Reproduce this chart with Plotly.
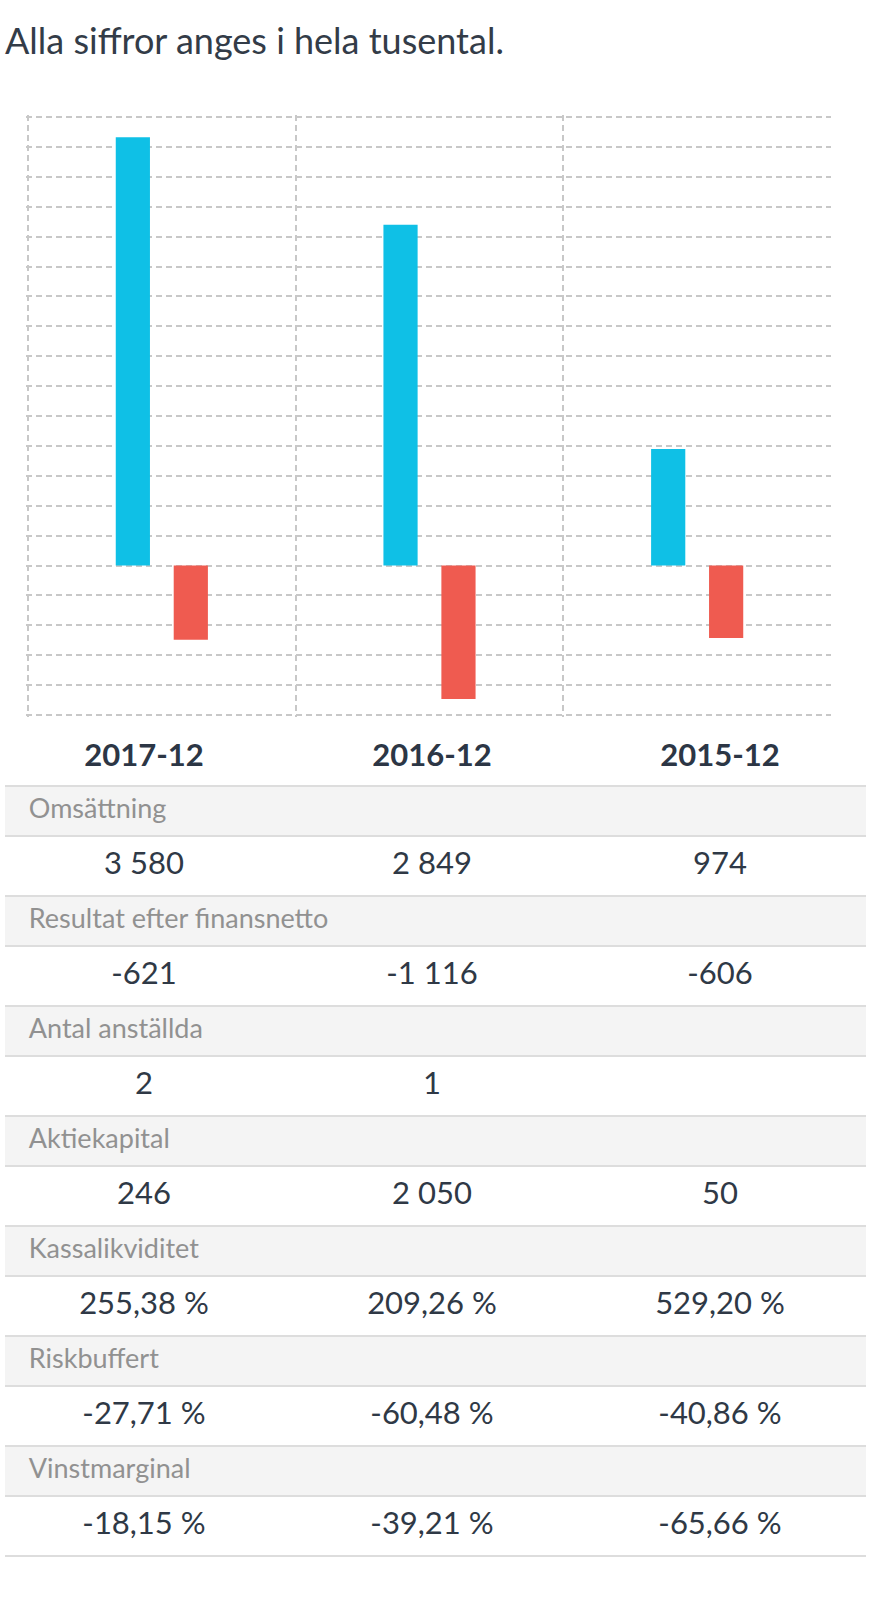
import plotly.graph_objects as go

# all figures in thousands (SEK)
years = ["2017-12", "2016-12", "2015-12"]
omsattning = [3580, 2849, 974]
resultat = [-621, -1116, -606]
anstallda = [2, 1, None]
aktiekapital = [246, 2050, 50]
kassalikviditet = [255.38, 209.26, 529.20]
riskbuffert = [-27.71, -60.48, -40.86]
vinstmarginal = [-18.15, -39.21, -65.66]

row_labels = ["Omsättning", "Resultat efter finansnetto", "Antal anställda",
              "Aktiekapital", "Kassalikviditet", "Riskbuffert", "Vinstmarginal"]
row_kinds = ["int", "int", "int", "int", "pct", "pct", "pct"]
row_values = [omsattning, resultat, anstallda, aktiekapital,
              kassalikviditet, riskbuffert, vinstmarginal]

W, H = 894, 1600
FONT = "Lato"
BLUE = "#0fc0e6"
RED = "#ef5b50"
DARK = "#2f3946"
GRID = "#c8c8c8"


def fmt(v, kind):
    if v is None:
        return ""
    if kind == "pct":
        return f"{v:,.2f}".replace(",", " ").replace(".", ",") + " %"
    return f"{v:,d}".replace(",", " ")


def px_x(p):
    return p / W


def px_y(p):
    return 1 - p / H


fig = go.Figure()

xs = list(range(len(years)))
fig.add_trace(go.Bar(x=xs, y=omsattning, marker=dict(color=BLUE, line_width=0),
                     name="Omsättning", hoverinfo="skip"))
fig.add_trace(go.Bar(x=xs, y=resultat, marker=dict(color=RED, line_width=0),
                     name="Resultat efter finansnetto", hoverinfo="skip"))

# table rows: one unit per block (50px label band + 60px value row)
BLOCK = 110.0
TOP = 786.0
band = 50 / BLOCK
col_x = [0, 1, 2]

fig.add_trace(go.Scatter(
    x=col_x, y=[(758 - TOP) / BLOCK] * 3, text=years, mode="text",
    textfont=dict(family=FONT, size=31, color="#2c3645", weight="bold"),
    xaxis="x2", yaxis="y2", hoverinfo="skip", showlegend=False))

shapes = []
for k, (label, kind, vals) in enumerate(zip(row_labels, row_kinds, row_values)):
    shapes.append(dict(type="rect", xref="paper", yref="y2",
                       x0=px_x(5), x1=px_x(866), y0=k, y1=k + band,
                       fillcolor="#f4f4f4", line_width=0, layer="below"))
    for yy in (k, k + band):
        shapes.append(dict(type="line", xref="paper", yref="y2",
                           x0=px_x(5), x1=px_x(866), y0=yy, y1=yy,
                           line=dict(color="#dddddd", width=2)))
    fig.add_trace(go.Scatter(
        x=[-0.4], y=[k + band / 2], text=[label], mode="text",
        textposition="middle right",
        textfont=dict(family=FONT, size=27, color="#919191"),
        xaxis="x2", yaxis="y2", hoverinfo="skip", showlegend=False))
    fig.add_trace(go.Scatter(
        x=col_x, y=[k + band + (1 - band) / 2] * 3,
        text=[fmt(v, kind) for v in vals], mode="text",
        textfont=dict(family=FONT, size=31, color=DARK),
        xaxis="x2", yaxis="y2", hoverinfo="skip", showlegend=False))
n = len(row_labels)
shapes.append(dict(type="line", xref="paper", yref="y2",
                   x0=px_x(5), x1=px_x(866), y0=n, y1=n,
                   line=dict(color="#dddddd", width=2)))

# chart area 28..831 x 117..715 px; pad 2px so the edge gridlines are kept
y_per_px = 5000 / 598
x_per_px = 3 / 803
fig.update_layout(
    width=W, height=H,
    margin=dict(l=0, r=0, t=0, b=0),
    paper_bgcolor="white", plot_bgcolor="white",
    showlegend=False,
    barmode="group", bargap=0.567, bargroupgap=0.41,
    font=dict(family=FONT, color=DARK),
    title=dict(text="Alla siffror anges i hela tusental.",
               x=px_x(5), xanchor="left", y=px_y(41), yanchor="middle",
               font=dict(family=FONT, size=36, color="#333c48")),
    xaxis=dict(domain=[px_x(26), px_x(831)],
               range=[-0.5 - 2 * x_per_px, 2.5],
               showgrid=False, zeroline=False, showticklabels=False,
               tickvals=xs,
               minor=dict(tickvals=[-0.5, 0.5, 1.5], showgrid=True,
                          gridcolor=GRID, gridwidth=1.5, griddash="6px,4px")),
    yaxis=dict(domain=[px_y(717), px_y(115)],
               range=[-1250 - 2 * y_per_px, 3750 + 2 * y_per_px],
               dtick=250, tick0=0, showgrid=True, gridcolor=GRID,
               gridwidth=1.5, griddash="6px,4px",
               zeroline=False, showticklabels=False),
    xaxis2=dict(domain=[0, px_x(864)], range=[-0.5, 2.5], anchor="y2",
                visible=False),
    yaxis2=dict(domain=[px_y(1570), px_y(730)],
                range=[(1570 - TOP) / BLOCK, (730 - TOP) / BLOCK],
                anchor="x2", visible=False),
    shapes=shapes,
)

# drop the default 8px body margin so the figure sits at the page corner
fig.write_html("out.html", config={"displayModeBar": False},
               post_script="document.body.style.margin='0';")
